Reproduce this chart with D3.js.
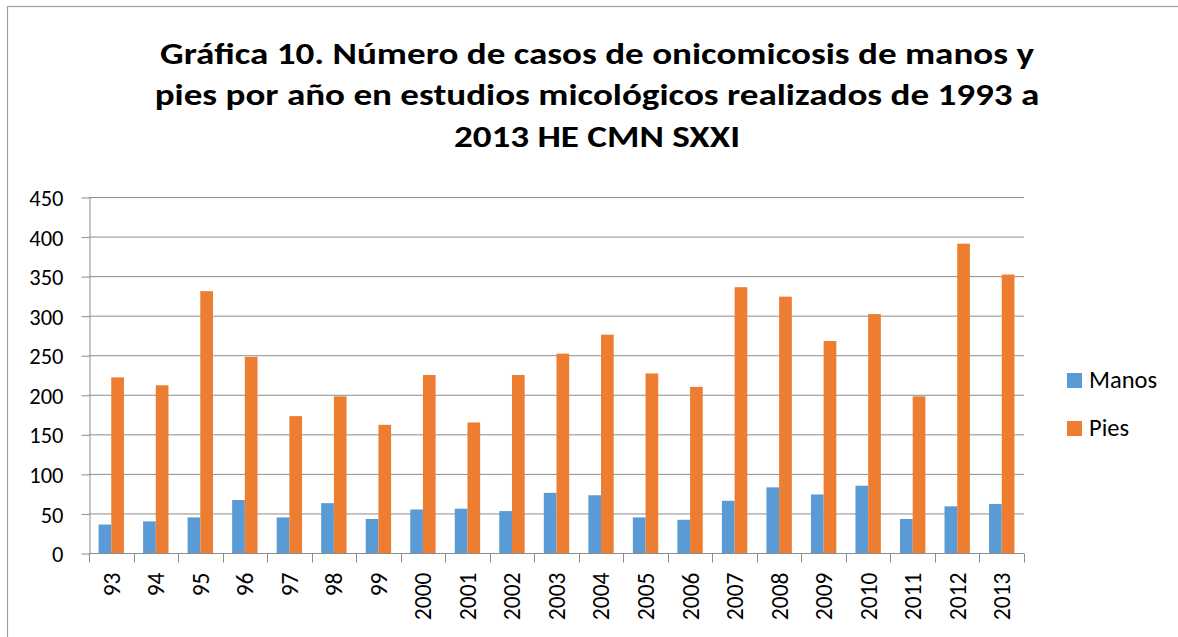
<!DOCTYPE html>
<html>
<head>
<meta charset="utf-8">
<script src="https://cdn.jsdelivr.net/npm/d3@7"></script>
<style>
  body { margin: 0; background: #fff; }
  svg { display: block; }
  text { font-family: Carlito, Calibri, Lato, sans-serif; fill: #000; }
</style>
</head>
<body>
<div id="chart"></div>
<script>
const years = ["93", "94", "95", "96", "97", "98", "99", "2000", "2001", "2002", "2003",
  "2004", "2005", "2006", "2007", "2008", "2009", "2010", "2011", "2012", "2013"];
const manos = [36, 40, 45, 67, 45, 63, 43, 55, 56, 53, 76, 73, 45, 42, 66, 83, 74, 85, 43, 59, 62];
const pies = [222, 212, 331, 248, 173, 198, 162, 225, 165, 225, 252, 276, 227, 210, 336, 324, 268, 302, 198, 391, 352];
const seriesNames = ["Manos", "Pies"];
const seriesColors = ["#5B9BD5", "#ED7D31"];
const yTicks = [0, 50, 100, 150, 200, 250, 300, 350, 400, 450];
const titleLines = [
  "Gráfica 10. Número de casos de onicomicosis de manos y",
  "pies por año en estudios micológicos realizados de 1993 a",
  "2013 HE CMN SXXI"
];

const width = 1178;
const height = 637;
const plot = { left: 89, right: 1024, top: 197, bottom: 553 };
const gridColor = "#8c8c8c";

const svg = d3.select("#chart")
  .append("svg")
  .attr("width", width)
  .attr("height", height);

// outer chart frame (runs off the right and bottom of the picture)
svg.append("rect")
  .attr("x", 7.5)
  .attr("y", 6.5)
  .attr("width", 1185)
  .attr("height", 660)
  .attr("fill", "#fff")
  .attr("stroke", "#a0a0a0")
  .attr("stroke-width", 1.2);

// title, squeezed sideways to the width of the original lines
const titleG = svg.append("g");
const titleText = titleG.selectAll("text")
  .data(titleLines)
  .enter()
  .append("text")
  .attr("x", 0)
  .attr("y", (d, i) => i * 41.5)
  .attr("text-anchor", "middle")
  .attr("font-weight", "bold")
  .attr("font-size", 31)
  .text((d) => d);

const lineW = titleText.nodes()[1].getComputedTextLength();
const sx = 885 / lineW;
titleG.attr("transform", `translate(597,64) scale(${sx},1)`);

const x = d3.scaleBand()
  .domain(years)
  .range([plot.left, plot.right])
  .paddingInner(0.43)
  .paddingOuter(0.215);

const xs = d3.scaleBand()
  .domain(seriesNames)
  .range([0, x.bandwidth()]);

const y = d3.scaleLinear()
  .domain([0, 450])
  .range([plot.bottom, plot.top]);

const color = d3.scaleOrdinal().domain(seriesNames).range(seriesColors);

// gridlines
svg.append("g")
  .selectAll("line")
  .data(yTicks.filter((d) => d > 0))
  .enter()
  .append("line")
  .attr("x1", plot.left)
  .attr("x2", plot.right)
  .attr("y1", (d) => y(d) + 0.5)
  .attr("y2", (d) => y(d) + 0.5)
  .attr("stroke", gridColor)
  .attr("stroke-width", 1);

// bars
const rows = years.map((yr, i) => ({ year: yr, Manos: manos[i], Pies: pies[i] }));

const group = svg.append("g")
  .selectAll("g")
  .data(rows)
  .enter()
  .append("g")
  .attr("transform", (d) => `translate(${x(d.year)},0)`);

group.selectAll("rect")
  .data((d) => seriesNames.map((s) => ({ key: s, value: d[s] })))
  .enter()
  .append("rect")
  .attr("x", (d) => xs(d.key))
  .attr("y", (d) => y(d.value))
  .attr("width", xs.bandwidth())
  .attr("height", (d) => y(0) - y(d.value))
  .attr("fill", (d) => color(d.key));

// y axis
const yAxis = svg.append("g")
  .attr("transform", `translate(${plot.left + 0.5},0.5)`)
  .call(d3.axisLeft(y).tickValues(yTicks).tickSize(8).tickSizeOuter(0).tickPadding(18));

yAxis.select(".domain").attr("stroke", gridColor);
yAxis.selectAll(".tick line").attr("stroke", gridColor);
yAxis.selectAll(".tick text")
  .attr("font-size", 22.5)
  .attr("dy", "0.36em")
  .style("font-family", "Carlito, Calibri, Lato, sans-serif");

// x axis
const xAxis = svg.append("g")
  .attr("transform", `translate(0,${plot.bottom + 0.5})`)
  .call(d3.axisBottom(x).tickSize(0).tickSizeOuter(0));

xAxis.select(".domain").remove();
xAxis.append("line")
  .attr("x1", plot.left)
  .attr("x2", plot.right)
  .attr("stroke", gridColor);

// Excel puts the ticks between the categories
const gap = (x.step() - x.bandwidth()) / 2;
const bounds = years.map((d) => x(d) - gap).concat([plot.right]);
xAxis.selectAll(".bound")
  .data(bounds)
  .enter()
  .append("line")
  .attr("class", "bound")
  .attr("x1", (d) => Math.round(d) + 0.5)
  .attr("x2", (d) => Math.round(d) + 0.5)
  .attr("y1", 0)
  .attr("y2", 9)
  .attr("stroke", gridColor);

xAxis.selectAll(".tick text")
  .attr("font-size", 23.5)
  .attr("text-anchor", "end")
  .attr("transform", "rotate(-90)")
  .attr("x", -19)
  .attr("y", 0)
  .attr("dy", "0.36em")
  .style("font-family", "Carlito, Calibri, Lato, sans-serif");

// legend
const legend = svg.append("g")
  .selectAll("g")
  .data(seriesNames)
  .enter()
  .append("g")
  .attr("transform", (d, i) => `translate(1067,${373 + i * 48})`);

legend.append("rect")
  .attr("width", 15)
  .attr("height", 15)
  .attr("fill", (d) => color(d));

legend.append("text")
  .attr("x", 22)
  .attr("y", 15)
  .attr("font-size", 24.5)
  .text((d) => d);
</script>
</body>
</html>
